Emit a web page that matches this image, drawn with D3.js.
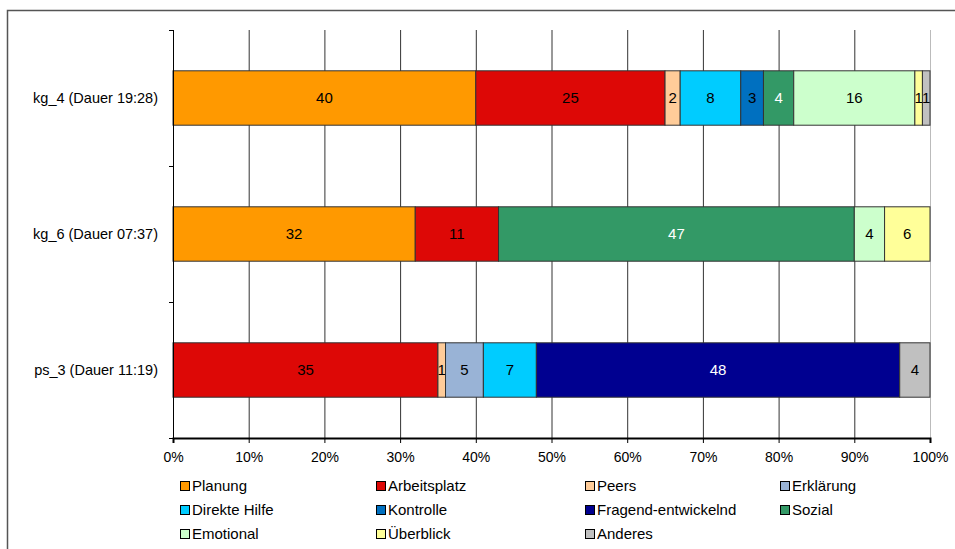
<!DOCTYPE html>
<html>
<head>
<meta charset="utf-8">
<script src="https://cdn.jsdelivr.net/npm/d3@7"></script>
<style>
  html, body { margin: 0; padding: 0; background: #fff; }
  svg { display: block; font-family: "Liberation Sans", Arial, sans-serif; }
</style>
</head>
<body>
<svg id="chart" width="955" height="549"></svg>
<script>
// Sessions (rows, top to bottom)
const categories = ["kg_4 (Dauer 19:28)", "kg_6 (Dauer 07:37)", "ps_3 (Dauer 11:19)"];

// Help types (stack order, left to right)
const seriesNames = ["Planung", "Arbeitsplatz", "Peers", "Erklärung", "Direkte Hilfe", "Kontrolle",
  "Fragend-entwickelnd", "Sozial", "Emotional", "Überblick", "Anderes"];
const seriesColors = ["#FF9900", "#DD0806", "#FFCC99", "#99B3D6", "#00CCFF", "#0070C0",
  "#000090", "#339966", "#CCFFCC", "#FFFF99", "#C0C0C0"];
const labelColors = ["#000", "#000", "#000", "#000", "#000", "#000",
  "#fff", "#fff", "#000", "#000", "#000"];

// Percent shares per session, one array per help type (order of categories)
const planung      = [40, 32, 0];
const arbeitsplatz = [25, 11, 35];
const peers        = [2, 0, 1];
const erklaerung   = [0, 0, 5];
const direkteHilfe = [8, 0, 7];
const kontrolle    = [3, 0, 0];
const fragend      = [0, 0, 48];
const sozial       = [4, 47, 0];
const emotional    = [16, 4, 0];
const ueberblick   = [1, 6, 0];
const anderes      = [1, 0, 4];
const seriesValues = [planung, arbeitsplatz, peers, erklaerung, direkteHilfe, kontrolle,
  fragend, sozial, emotional, ueberblick, anderes];

const xTicks = [0, 10, 20, 30, 40, 50, 60, 70, 80, 90, 100];

(function draw() {
  const rows = categories.map((c, i) => {
    const r = { cat: c };
    seriesNames.forEach((s, j) => r[s] = seriesValues[j][i]);
    return r;
  });
  const stacked = d3.stack().keys(seriesNames)(rows);

  const svg = d3.select("#chart");

  // outer frame
  svg.append("path")
    .attr("d", "M7.5,560 V10.5 H970")
    .attr("fill", "none").attr("stroke", "#555").attr("stroke-width", 1.5);

  const plotL = 173, plotR = 930, plotT = 30, plotB = 438;
  const x = d3.scaleLinear().domain([0, 100]).range([plotL, plotR]);
  const y = d3.scaleBand().domain(categories).range([plotT, plotB]).paddingInner(0.6).paddingOuter(0.3);
  const yBands = d3.scaleBand().domain(categories).range([plotT, plotB]);

  // vertical gridlines
  svg.append("g").selectAll("line").data(xTicks).join("line")
    .attr("x1", d => x(d) + 0.5).attr("x2", d => x(d) + 0.5)
    .attr("y1", plotT).attr("y2", plotB)
    .attr("stroke", d => d === 100 ? "#bbb" : "#333").attr("stroke-width", 1);

  // bars
  stacked.forEach((s, i) => {
    svg.append("g").selectAll("rect").data(s.filter(v => v[1] - v[0] > 0)).join("rect")
      .attr("x", d => x(d[0]))
      .attr("width", d => x(d[1]) - x(d[0]))
      .attr("y", d => y(d.data.cat))
      .attr("height", y.bandwidth())
      .attr("fill", seriesColors[i])
      .attr("stroke", "#333").attr("stroke-width", 1);
  });

  // value labels
  stacked.forEach((s, i) => {
    svg.append("g").selectAll("text").data(s.filter(v => v[1] - v[0] > 0)).join("text")
      .attr("x", d => (x(d[0]) + x(d[1])) / 2)
      .attr("y", d => y(d.data.cat) + y.bandwidth() / 2)
      .attr("dy", "0.35em")
      .attr("text-anchor", "middle")
      .attr("font-size", 15)
      .attr("fill", labelColors[i])
      .text(d => d[1] - d[0]);
  });

  // y axis line and ticks between categories
  const yAxis = svg.append("g");
  yAxis.append("line").attr("x1", plotL + 0.5).attr("x2", plotL + 0.5).attr("y1", plotT).attr("y2", plotB)
    .attr("stroke", "#000");
  const boundaries = categories.map(c => yBands(c)).concat([plotB]);
  yAxis.selectAll("line.tick").data(boundaries).join("line").attr("class", "tick")
    .attr("x1", plotL - 4).attr("x2", plotL)
    .attr("y1", d => Math.round(d) + 0.5).attr("y2", d => Math.round(d) + 0.5)
    .attr("stroke", "#000");
  yAxis.selectAll("text").data(categories).join("text")
    .attr("x", plotL - 15).attr("y", d => yBands(d) + yBands.bandwidth() / 2)
    .attr("dy", "0.35em").attr("text-anchor", "end").attr("font-size", 14.5).attr("fill", "#000")
    .text(d => d);

  // x axis
  const xAxis = svg.append("g").attr("transform", `translate(0,${plotB})`)
    .call(d3.axisBottom(x).tickValues(xTicks).tickFormat(d => d + "%").tickSize(5).tickPadding(9));
  xAxis.select(".domain").attr("stroke", "#000").attr("stroke-width", 2);
  xAxis.selectAll(".tick line").attr("stroke", "#000");
  xAxis.selectAll(".tick text").attr("font-size", 14).attr("fill", "#000")
    .attr("font-family", "'Liberation Sans', Arial, sans-serif");

  // legend: 4 columns, 3 rows
  const colX = [180, 376, 585, 780];
  const rowY = [486, 510, 534];
  const legend = svg.append("g").selectAll("g").data(seriesNames).join("g")
    .attr("transform", (d, i) => `translate(${colX[i % 4]},${rowY[Math.floor(i / 4)]})`);
  legend.append("rect").attr("x", 0.5).attr("y", -4.5).attr("width", 9).attr("height", 9)
    .attr("fill", (d, i) => seriesColors[i]).attr("stroke", "#000").attr("stroke-width", 1);
  legend.append("text").attr("x", 12).attr("dy", "0.35em").attr("font-size", 15).attr("fill", "#000")
    .text(d => d);
})();
</script>
</body>
</html>
